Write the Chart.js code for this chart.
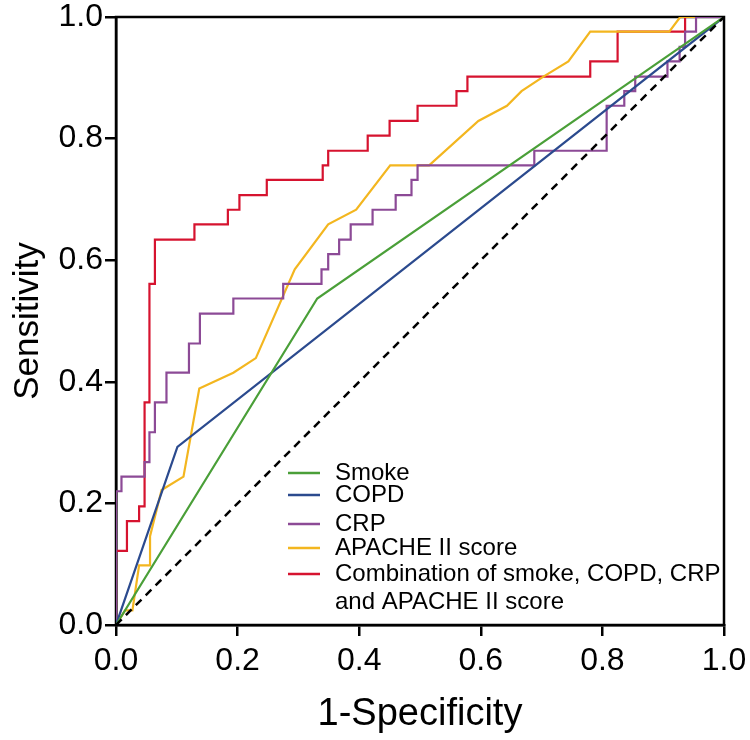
<!DOCTYPE html>
<html>
<head>
<meta charset="utf-8">
<script src="https://cdn.jsdelivr.net/npm/chart.js@4"></script>
<style>
  body { margin: 0; background: #fff; }
  #wrap { width: 750px; height: 740px; }
</style>
</head>
<body>
<div id="wrap"><canvas id="roc" width="750" height="740"></canvas></div>
<script>
// ROC curves (1-specificity vs sensitivity), vertices
const seriesLabels = ["Smoke", "COPD", "CRP", "APACHE II score",
  ["Combination of smoke, COPD, CRP", "and APACHE II score"]];
const seriesColors = ["#4a9f38", "#2b4a8e", "#8c4a96", "#f3b61f", "#d6132f"];

const smokeFpr = [0, 0.331, 1];
const smokeTpr = [0, 0.537, 1];

const copdFpr = [0, 0.101, 1];
const copdTpr = [0, 0.293, 1];

const crpFpr = [0, 0, 0.009, 0.009, 0.047, 0.047, 0.055, 0.055, 0.064, 0.064, 0.083, 0.083,
  0.120, 0.120, 0.138, 0.138, 0.193, 0.193, 0.275, 0.275, 0.338, 0.338, 0.349, 0.349,
  0.367, 0.367, 0.386, 0.386, 0.422, 0.422, 0.460, 0.460, 0.486, 0.486, 0.496, 0.496,
  0.688, 0.688, 0.807, 0.807, 0.836, 0.836, 0.854, 0.854, 0.907, 0.907, 0.927, 0.927,
  0.936, 0.936, 0.954, 0.954, 1];
const crpTpr = [0, 0.220, 0.220, 0.244, 0.244, 0.268, 0.268, 0.317, 0.317, 0.366, 0.366, 0.415,
  0.415, 0.463, 0.463, 0.512, 0.512, 0.537, 0.537, 0.561, 0.561, 0.585, 0.585, 0.610,
  0.610, 0.634, 0.634, 0.659, 0.659, 0.683, 0.683, 0.707, 0.707, 0.732, 0.732, 0.756,
  0.756, 0.780, 0.780, 0.854, 0.854, 0.878, 0.878, 0.902, 0.902, 0.927, 0.927, 0.951,
  0.951, 0.976, 0.976, 1, 1];

const apacheFpr = [0, 0.015, 0.027, 0.038, 0.056, 0.056, 0.075, 0.111, 0.137, 0.193, 0.230,
  0.294, 0.349, 0.395, 0.451, 0.515, 0.596, 0.643, 0.667, 0.703, 0.744, 0.780, 0.910, 0.928, 1];
const apacheTpr = [0, 0.024, 0.024, 0.098, 0.098, 0.146, 0.222, 0.244, 0.389, 0.415, 0.439,
  0.585, 0.659, 0.683, 0.756, 0.756, 0.829, 0.854, 0.878, 0.902, 0.927, 0.976, 0.976, 1, 1];

const comboFpr = [0, 0, 0.018, 0.018, 0.038, 0.038, 0.047, 0.047, 0.055, 0.055, 0.064, 0.064,
  0.129, 0.129, 0.184, 0.184, 0.203, 0.203, 0.248, 0.248, 0.340, 0.340, 0.349, 0.349,
  0.414, 0.414, 0.450, 0.450, 0.496, 0.496, 0.560, 0.560, 0.578, 0.578, 0.780, 0.780,
  0.825, 0.825, 0.936, 0.936, 1];
const comboTpr = [0, 0.122, 0.122, 0.171, 0.171, 0.195, 0.195, 0.366, 0.366, 0.561, 0.561, 0.634,
  0.634, 0.659, 0.659, 0.683, 0.683, 0.707, 0.707, 0.732, 0.732, 0.756, 0.756, 0.780,
  0.780, 0.805, 0.805, 0.829, 0.829, 0.854, 0.854, 0.878, 0.878, 0.902, 0.902, 0.927,
  0.927, 0.976, 0.976, 1, 1];

const refFpr = [0, 1];
const refTpr = [0, 1];

const axisTicks = [0, 0.2, 0.4, 0.6, 0.8, 1.0];

const FONT = "'Liberation Sans', Arial, sans-serif";

const toPoints = (xs, ys) => xs.map((x, i) => ({ x: x, y: ys[i] }));

const curves = [
  [smokeFpr, smokeTpr],
  [copdFpr, copdTpr],
  [crpFpr, crpTpr],
  [apacheFpr, apacheTpr],
  [comboFpr, comboTpr],
];

const datasets = [{
  label: "",
  data: toPoints(refFpr, refTpr),
  borderColor: "#000",
  borderWidth: 2.5,
  borderDash: [8, 6],
  showLine: true,
  pointRadius: 0,
}];
curves.forEach(([xs, ys], i) => {
  datasets.push({
    label: seriesLabels[i],
    data: toPoints(xs, ys),
    borderColor: seriesColors[i],
    borderWidth: 2.2,
    showLine: true,
    pointRadius: 0,
    tension: 0,
  });
});

// box around the plot (top and right edges)
const framePlugin = {
  id: "frame",
  beforeDatasetsDraw(chart) {
    const { ctx, chartArea: a } = chart;
    ctx.save();
    ctx.strokeStyle = "#000";
    ctx.lineWidth = 2.5;
    ctx.strokeRect(a.left, a.top, a.right - a.left, a.bottom - a.top);
    ctx.restore();
  },
};

// legend drawn inside the plot, lower middle
const legendPlugin = {
  id: "insideLegend",
  afterDraw(chart) {
    const { ctx, chartArea: a } = chart;
    const rows = [456, 478, 507, 531, 557]; // row centres below chartArea.top
    const lineH = 28;
    ctx.save();
    ctx.font = "24px " + FONT;
    ctx.textBaseline = "middle";
    ctx.fillStyle = "#000";
    chart.data.datasets.slice(1).forEach((ds, i) => {
      const y = a.top + rows[i];
      ctx.strokeStyle = ds.borderColor;
      ctx.lineWidth = 2.5;
      ctx.beginPath();
      ctx.moveTo(a.left + 172, y);
      ctx.lineTo(a.left + 204, y);
      ctx.stroke();
      const lines = Array.isArray(ds.label) ? ds.label : [ds.label];
      lines.forEach((t, k) => ctx.fillText(t, a.left + 219, y + k * lineH));
    });
    ctx.restore();
  },
};

const fitAxis = (size) => (scale) => {
  if (scale.isHorizontal()) scale.height = size; else scale.width = size;
  scale.paddingLeft = scale.paddingRight = scale.paddingTop = scale.paddingBottom = 0;
};

new Chart(document.getElementById("roc"), {
  type: "scatter",
  data: { datasets: datasets },
  options: {
    responsive: false,
    animation: false,
    layout: { padding: { top: 17, right: 26, left: 0, bottom: 0 } },
    plugins: { legend: { display: false }, tooltip: { enabled: false } },
    scales: {
      x: {
        type: "linear",
        min: 0,
        max: 1,
        afterBuildTicks: (s) => { s.ticks = axisTicks.map((v) => ({ value: v })); },
        afterFit: fitAxis(115),
        ticks: {
          color: "#000",
          font: { family: FONT, size: 32 },
          padding: 6,
          callback: (v) => v.toFixed(1),
        },
        grid: { drawOnChartArea: false, color: "#000", lineWidth: 2.5, tickLength: 11 },
        border: { color: "#000", width: 2.5 },
        title: {
          display: true,
          text: "1-Specificity",
          color: "#000",
          font: { family: FONT, size: 38 },
          padding: { top: 0, bottom: 3 },
        },
      },
      y: {
        type: "linear",
        min: 0,
        max: 1,
        afterBuildTicks: (s) => { s.ticks = axisTicks.map((v) => ({ value: v })); },
        afterFit: fitAxis(116),
        ticks: {
          color: "#000",
          font: { family: FONT, size: 32 },
          padding: 2,
          callback: (v) => v.toFixed(1),
        },
        grid: { drawOnChartArea: false, color: "#000", lineWidth: 2.5, tickLength: 11 },
        border: { color: "#000", width: 2.5 },
        title: {
          display: true,
          text: "Sensitivity",
          color: "#000",
          font: { family: FONT, size: 35 },
          padding: { top: 7, bottom: 0 },
        },
      },
    },
  },
  plugins: [framePlugin, legendPlugin],
});
</script>
</body>
</html>
